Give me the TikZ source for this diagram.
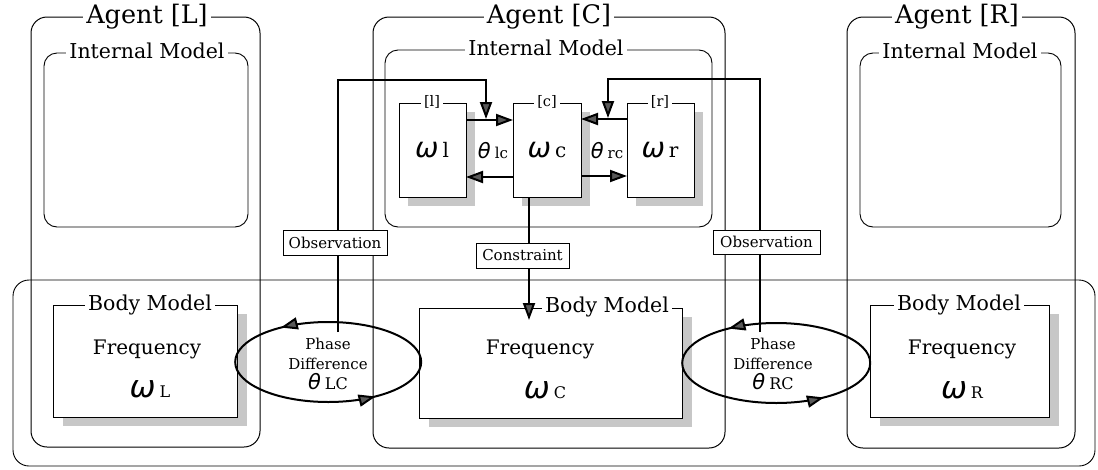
\documentclass[tikz,border=0pt]{standalone}
\usepackage{fontspec}
\setmainfont{DejaVu Serif}
\newfontfamily\grk{DejaVu Sans}
\usetikzlibrary{arrows.meta,shapes.geometric,decorations.markings,shadows}

\newcommand\fsz[2]{\fontsize{#1}{#2}\selectfont}
% Greek symbol followed by its upright index
\newcommand\gsym[4]{{\grk\itshape\fsz{#1}{#1}#2}\hspace{4pt}{\fsz{#3}{#3}\upshape #4}}

\begin{document}
\begin{tikzpicture}[x=1pt,y=-1pt,
  box/.style={draw, inner sep=0pt, outer sep=0pt},
  agentframe/.style={box, line width=1pt, rounded corners=16pt},
  modelframe/.style={box, line width=0.9pt, rounded corners=13pt},
  bodybox/.style={box, line width=0.9pt, fill=white,
    drop shadow={shadow xshift=10pt, shadow yshift=-9pt, fill=black!22, opacity=1}},
  unitbox/.style={box, line width=0.9pt, fill=white,
    drop shadow={shadow xshift=9pt, shadow yshift=-9pt, fill=black!22, opacity=1}},
  heading/.style={fill=white, inner sep=3pt, font=\fsz{25.5}{28}},
  subheading/.style={fill=white, inner sep=3pt, font=\fsz{20.5}{23}},
  unitlabel/.style={fill=white, inner sep=3pt, font=\fsz{14.5}{16}},
  tag/.style={draw, fill=white, line width=0.8pt, inner sep=0pt, font=\fsz{15}{16}},
  conn/.style={line width=2pt},
  tip/.style={-{Triangle[length=17pt, width=12pt, fill=black!65]}},
  ring/.style={line width=2pt},
  ringtips/.style={decoration={markings,
      mark=at position 0.36 with {\arrow{Triangle[length=17pt, width=12pt, fill=black!65]}},
      mark=at position 0.86 with {\arrow{Triangle[length=17pt, width=12pt, fill=black!65]}}},
    postaction=decorate},
]
\useasboundingbox (0,0) rectangle (1098,469);

% shared body-model envelope
\node[box, line width=0.9pt, rounded corners=16pt, minimum width=1082, minimum height=186] (env) at (554,373) {};

% agents
\node[agentframe, minimum width=229, minimum height=430] (agL) at (145.5,232) {};
\node[agentframe, minimum width=352, minimum height=431] (agC) at (549,232.5) {};
\node[agentframe, minimum width=228, minimum height=431] (agR) at (961,232.5) {};
\node[heading] at (147,17) {Agent [L]};
\node[heading] at (549,17) {Agent [C]};
\node[heading] at (957,17) {Agent [R]};

% internal models
\node[modelframe, minimum width=204, minimum height=174] (imL) at (146,140) {};
\node[modelframe, minimum width=327, minimum height=177] (imC) at (548.5,138.5) {};
\node[modelframe, minimum width=201, minimum height=174] (imR) at (960.5,140) {};
\node[subheading] at (147,51) {Internal Model};
\node[subheading] at (546,48) {Internal Model};
\node[subheading] at (960,51) {Internal Model};

% oscillator units inside the central internal model
\node[unitbox, minimum width=67, minimum height=94] (ul) at (432.5,150) {};
\node[unitbox, minimum width=68, minimum height=94] (uc) at (547,150) {};
\node[unitbox, minimum width=67, minimum height=94] (ur) at (660.5,150) {};
\node[unitlabel] at (432,102) {[l]};
\node[unitlabel] at (547,102) {[c]};
\node[unitlabel] at (660,102) {[r]};
\node at (432,150) {\gsym{28}{ω}{20}{l}};
\node at (547,150) {\gsym{28}{ω}{20}{c}};
\node at (660,150) {\gsym{28}{ω}{20}{r}};
\node at (493,151) {\gsym{21}{θ}{15}{lc}};
\node at (607,151) {\gsym{21}{θ}{15}{rc}};

% body models
\node[bodybox, minimum width=184, minimum height=112] (bL) at (145,361) {};
\node[bodybox, minimum width=263, minimum height=110] (bC) at (550.5,363) {};
\node[bodybox, minimum width=179, minimum height=112] (bR) at (959.5,361) {};
\node[subheading] at (150,305) {Body Model};
\node[subheading] at (607,307) {Body Model};
\node[subheading] at (959,305) {Body Model};
\node[font=\fsz{20}{22}] at (147,349) {Frequency};
\node[font=\fsz{20}{22}] at (540,349) {Frequency};
\node[font=\fsz{20}{22}] at (962,349) {Frequency};
\node at (150,389) {\gsym{31}{ω}{16}{L}};
\node at (545,390) {\gsym{31}{ω}{16}{C}};
\node at (962,390) {\gsym{31}{ω}{16}{R}};

% phase-difference loops
\node[ellipse, minimum width=186, minimum height=80, inner sep=0pt] (eLC) at (328,362) {};
\node[ellipse, minimum width=188, minimum height=80, inner sep=0pt] (eRC) at (776,363) {};
\draw[ring, ringtips] (eLC.east) arc[start angle=0, end angle=360, x radius=93pt, y radius=40pt];
\draw[ring, ringtips] (eRC.east) arc[start angle=0, end angle=360, x radius=94pt, y radius=40pt];
\node[align=center, font=\fsz{15}{20}] at (328,364) {Phase\\Difference\\\gsym{21}{θ}{16}{LC}};
\node[align=center, font=\fsz{15}{20}] at (773,364) {Phase\\Difference\\\gsym{21}{θ}{16}{RC}};

% couplings between the units
\draw[conn, tip] ([yshift=30pt]ul.east) -- ([yshift=30pt]uc.west);
\draw[conn, tip] ([yshift=-27pt]uc.west) -- ([yshift=-27pt]ul.east);
\draw[conn, tip] ([yshift=31pt]ur.west) -- ([yshift=31pt]uc.east);
\draw[conn, tip] ([yshift=-26pt]uc.east) -- ([yshift=-26pt]ur.west);

% observation paths from the loops into the internal model
\coordinate (obsLfoot) at (338,332);
\coordinate (obsLin) at (486,119);
\coordinate (obsRfoot) at (760,332);
\coordinate (obsRin) at (608,118);
\draw[conn, tip] (obsLfoot) -- (338,80) -| (obsLin);
\draw[conn, tip] (obsRfoot) -- (760,79) -| (obsRin);

% constraint from the central unit down to the body model
\coordinate (conTop) at (529,197);
\coordinate (conEnd) at (529,320);
\draw[conn, tip] (conTop) -- (conEnd);

\node[tag, minimum width=104, minimum height=25] (obsL) at (335,242.5) {Observation};
\node[tag, minimum width=107, minimum height=24] (obsR) at (766.5,242) {Observation};
\node[tag, minimum width=93, minimum height=25] (con) at (522.5,255.5) {Constraint};
\end{tikzpicture}
\end{document}
